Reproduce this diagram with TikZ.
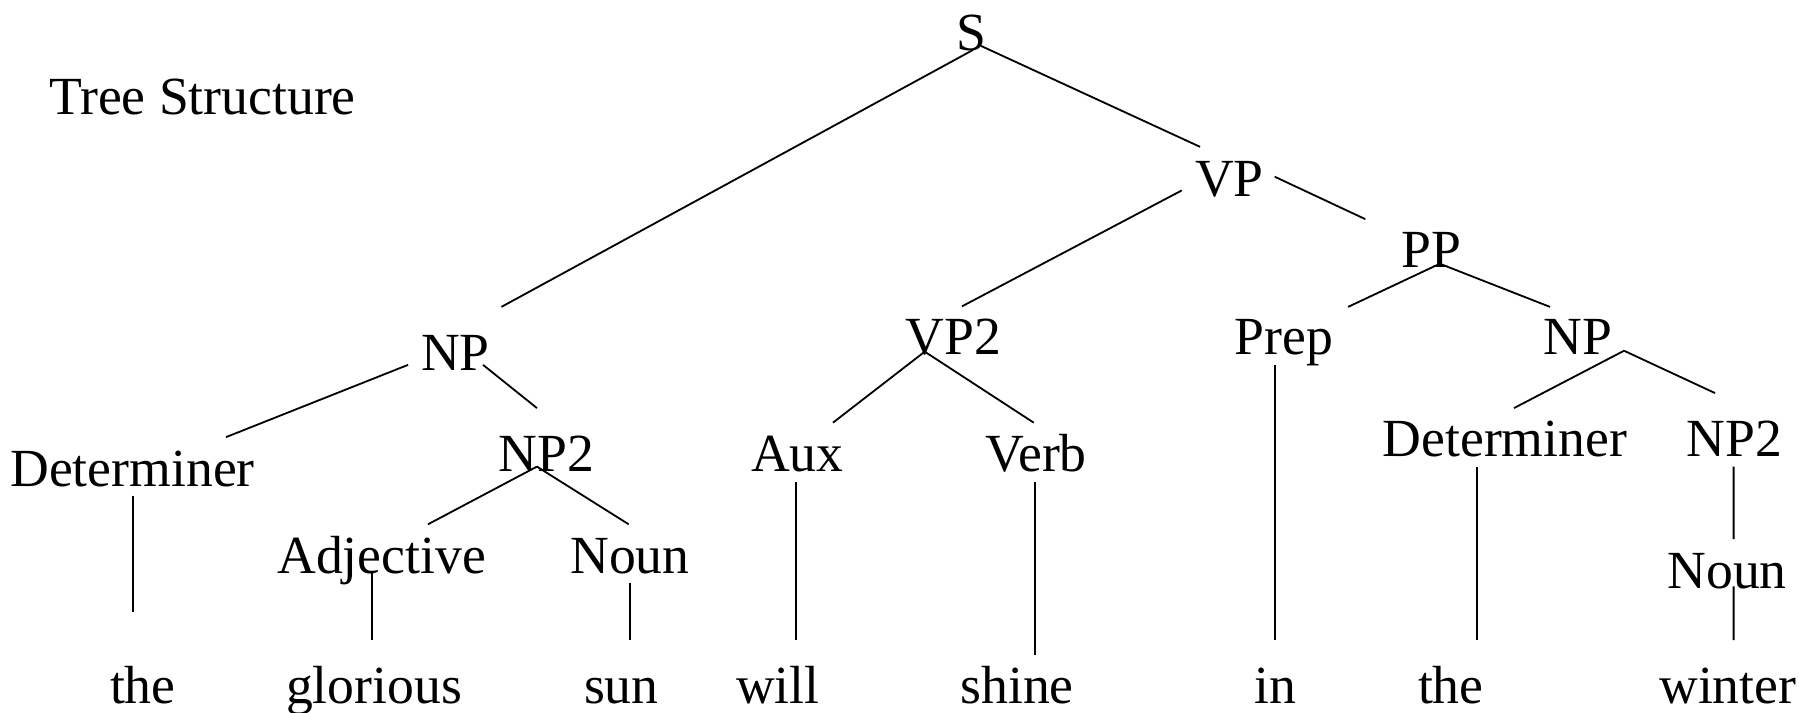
\documentclass[tikz,border=0pt]{standalone}
\usepackage{fontspec}
\setmainfont{Liberation Serif}
\usetikzlibrary{calc}
\begin{document}
\begin{tikzpicture}[x=0.01cm,y=-0.01cm,line width=0.45pt,
	word/.style={inner sep=0pt,anchor=base,font=\fontsize{13.3}{15}\selectfont}]
	\useasboundingbox (0,0) rectangle (1568,621);
	
	% Draw the title
	\node[word] (title) at (176.5,100) {Tree Structure};
	
	% Draw the phrase labels
	\node[word] (S) at (847,44) {S};
	\node[word] (VP) at (1071.5,171) {VP};
	\node[word] (PP) at (1247.5,233) {PP};
	\node[word] (NPa) at (397,322.5) {NP};
	\node[word] (VPb) at (831,308.6) {VP2};
	\node[word] (Prep) at (1119,308.6) {Prep};
	\node[word] (NPb) at (1375.5,309.4) {NP};
	\node[word] (Deta) at (115.5,424) {Determiner};
	\node[word] (NPa2) at (476.5,411) {NP2};
	\node[word] (Aux) at (695,411) {Aux};
	\node[word] (Verb) at (903,411) {Verb};
	\node[word] (Detb) at (1311.7,398) {Determiner};
	\node[word] (NPb2) at (1511.5,398) {NP2};
	\node[word] (Adj) at (332.6,499.5) {Adjective};
	\node[word] (Nouna) at (549,499.5) {Noun};
	\node[word] (Nounb) at (1505.3,512.8) {Noun};
	
	% Draw the words of the sentence
	\node[word] (wThe) at (124.5,613) {the};
	\node[word] (wGlorious) at (326,613) {glorious};
	\node[word] (wSun) at (541.5,613) {sun};
	\node[word] (wWill) at (678,613) {will};
	\node[word] (wShine) at (886.5,613) {shine};
	\node[word] (wIn) at (1112,613) {in};
	\node[word] (wTheb) at (1264.5,613) {the};
	\node[word] (wWinter) at (1506,613) {winter};
	
	% Draw the branches
	\draw ($(S.base)+(1,-0.4)$) -- ($(NPa.base)+(40,-55)$);
	\draw ($(S.base)+(8,-4)$) -- ($(VP.base)+(-25.5,-43)$);
	\draw ($(VP.base)+(-41.5,-5)$) -- ($(VPb.base)+(7.5,-41.6)$);
	\draw ($(VP.base)+(39.5,-17)$) -- ($(PP.base)+(-57.5,-42)$);
	\draw ($(PP.base)+(5,-2)$) -- ($(Prep.base)+(56,-41.1)$);
	\draw ($(PP.base)+(6.5,-3.5)$) -- ($(NPb.base)+(-24.5,-41.9)$);
	\draw ($(NPa.base)+(-41.3,-4.5)$) -- ($(Deta.base)+(81.5,-43)$);
	\draw ($(NPa.base)+(24,-4.5)$) -- ($(NPa2.base)+(-8.5,-55.3)$);
	\draw ($(NPa2.base)+(-8.5,-4.3)$) -- ($(Adj.base)+(40.4,-42.5)$);
	\draw ($(NPa2.base)+(-8.5,-4.3)$) -- ($(Nouna.base)+(-1,-42.5)$);
	\draw ($(VPb.base)+(-25,-2.1)$) -- ($(Aux.base)+(31,-42.6)$);
	\draw ($(VPb.base)+(-25,-2.1)$) -- ($(Verb.base)+(-2,-42.6)$);
	\draw ($(NPb.base)+(40,-3.7)$) -- ($(Detb.base)+(7.9,-42.3)$);
	\draw ($(NPb.base)+(40,-3.7)$) -- ($(NPb2.base)+(-16.7,-55.4)$);
	\draw ($(NPb2.base)+(-0.5,8.8)$) -- ($(Nounb.base)+(5.7,-43)$);
	
	% Draw the lines down to the words
	\draw ($(Deta.base)+(0.5,8)$) -- ($(wThe.base)+(-8.5,-80)$);
	\draw ($(Adj.base)+(-8.6,-1.5)$) -- ($(wGlorious.base)+(-2,-55)$);
	\draw ($(Nouna.base)+(0,8.5)$) -- ($(wSun.base)+(7.5,-55)$);
	\draw ($(Aux.base)+(-1,9)$) -- ($(wWill.base)+(16,-55)$);
	\draw ($(Verb.base)+(-1,9)$) -- ($(wShine.base)+(15.5,-42)$);
	\draw ($(Prep.base)+(-8,9.4)$) -- ($(wIn.base)+(-1,-55)$);
	\draw ($(Detb.base)+(-24.2,8.8)$) -- ($(wTheb.base)+(23,-55)$);
	\draw ($(Nounb.base)+(5.7,-1.8)$) -- ($(wWinter.base)+(5,-55)$);
\end{tikzpicture}
\end{document}
